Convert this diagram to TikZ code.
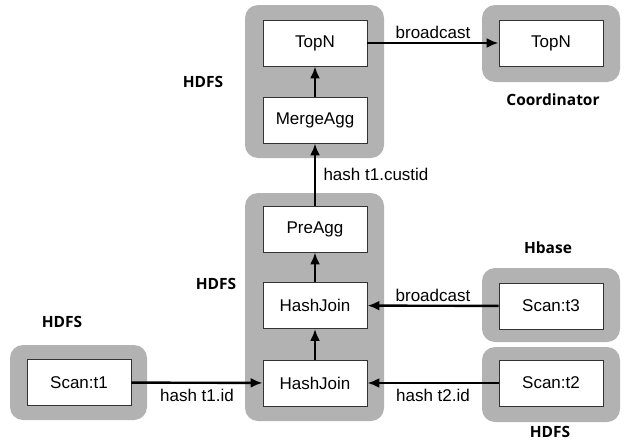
\documentclass[tikz,border=0pt]{standalone}
\usepackage{fontspec}
\setmainfont{Liberation Sans}
\newfontfamily\sitefont{Open Sans}
\usetikzlibrary{arrows.meta}
\definecolor{grpgray}{RGB}{178,178,178}

\begin{document}
\begin{tikzpicture}[x=1pt, y=-1pt,
        grp/.style={fill=grpgray, rounded corners=13pt, inner sep=0pt},
        op/.style={draw=black!80, fill=white, line width=0.9pt, minimum width=104pt, minimum height=46pt, inner sep=0pt, font=\fontsize{17}{19}\selectfont},
        lbl/.style={font=\fontsize{17}{19}\selectfont},
        site/.style={font=\sitefont\bfseries\fontsize{15.5}{17}\selectfont},
        flow/.style={-{Latex[length=12pt,width=10pt]}, line width=2.4pt}]
        \useasboundingbox (0,0) rectangle (629,442);
        \node[grp, minimum width=139pt, minimum height=153pt] (gtop) at (314.5,81.5) {};
        \node[grp, minimum width=138pt, minimum height=77pt] (gcoord) at (551,43.5) {};
        \node[grp, minimum width=139pt, minimum height=228pt] (gmid) at (314.5,307) {};
        \node[grp, minimum width=137pt, minimum height=75pt] (gt1) at (78.5,382.5) {};
        \node[grp, minimum width=138pt, minimum height=74pt] (gt3) at (551,305) {};
        \node[grp, minimum width=138pt, minimum height=75pt] (gt2) at (551,384.5) {};
        \node[op] (topn) at (315,43) {TopN};
        \node[op] (mergeagg) at (315,120) {MergeAgg};
        \node[op] (ctopn) at (551,43) {TopN};
        \node[op] (preagg) at (315,229) {PreAgg};
        \node[op] (hjoin2) at (315,305.5) {HashJoin};
        \node[op] (hjoin1) at (315,383) {HashJoin};
        \node[op] (scant1) at (79,382.5) {Scan:t1};
        \node[op] (scant3) at (551,306) {Scan:t3};
        \node[op] (scant2) at (551,383) {Scan:t2};
        \node[site] (hdfstop) at (203,82) {HDFS};
        \node[site] (coord) at (553,100) {Coordinator};
        \node[site] (hdfsmid) at (216,284) {HDFS};
        \node[site] (hbase) at (548,248) {Hbase};
        \node[site] (hdfsleft) at (62,322) {HDFS};
        \node[site] (hdfsright) at (550,432) {HDFS};
        \draw[flow] (mergeagg) -- (topn);
        \draw[flow] (topn) -- node[lbl, above] {broadcast} (ctopn);
        \draw[flow] (preagg) -- node[lbl, right=4pt] {hash t1.custid} (mergeagg);
        \draw[flow] (hjoin2) -- (preagg);
        \draw[flow] (hjoin1) -- (hjoin2);
        \draw[flow] (scant3) -- node[lbl, above] {broadcast} (hjoin2);
        \draw[flow] (scant2) -- node[lbl, below=2pt] {hash t2.id} (hjoin1);
        \draw[flow] (scant1) -- node[lbl, below=2pt] {hash t1.id} (hjoin1);
    \end{tikzpicture}
\end{document}
